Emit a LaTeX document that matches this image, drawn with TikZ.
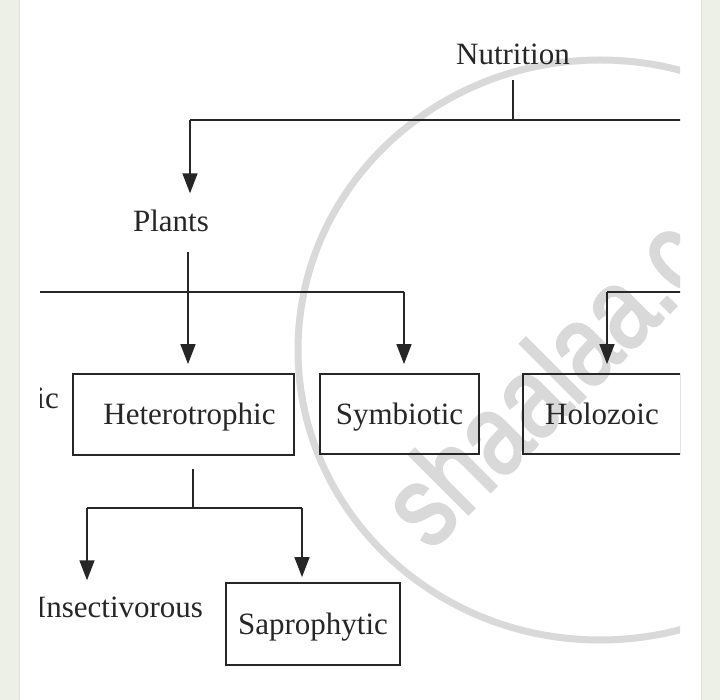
\documentclass[tikz,border=0pt]{standalone}
\usepackage{fontspec}
\usepackage{graphicx}
\setmainfont{Liberation Serif}
\newfontfamily\wmfont[FakeBold=2.5]{Liberation Sans}
\usetikzlibrary{arrows.meta}
\definecolor{framebg}{RGB}{237,240,231}
\definecolor{frameln}{RGB}{222,226,214}
\definecolor{ink}{RGB}{38,38,38}
\definecolor{wm}{RGB}{217,217,217}
\begin{document}
\begin{tikzpicture}[x=1pt,y=-1pt,
  lbl/.style={font=\fontsize{31}{31}\selectfont, text=ink, inner sep=0pt,
    text height=20.5pt, text depth=0pt, anchor=base},
  box/.style={draw=ink, line width=1.8pt, font=\fontsize{31}{31}\selectfont,
    text=ink, inner sep=0pt, text height=20.5pt, text depth=0pt},
  ln/.style={draw=ink, line width=1.5pt},
  arr/.style={ln, -{Triangle[width=15pt,length=20pt]}, shorten >=9pt}]
\useasboundingbox (0,0) rectangle (720,700);
\fill[white] (0,0) rectangle (720,700);
\fill[framebg] (0,0) rectangle (19,700);
\fill[framebg] (701,0) rectangle (720,700);
\draw[frameln, line width=1pt] (19,0) -- (19,700);
\draw[frameln, line width=1pt] (701,0) -- (701,700);
\begin{scope}
\clip (40,0) rectangle (680,700);
% watermark
\draw[wm, line width=7pt] (600,350) ellipse [x radius=302, y radius=290];
\node[text=wm, anchor=base west, rotate=45, inner sep=0pt] (wmk) at (430,552)
  {\scalebox{0.82}[1]{\wmfont\fontsize{115}{115}\selectfont shaalaa.c}};
% labels
\node[lbl] (nut) at (513,65) {Nutrition};
\node[lbl] (pla) at (171,232) {Plants};
\node[lbl, anchor=base east] (aut) at (59,408) {ic};
\node[lbl] (ins) at (119.5,617) {Insectivorous};
% boxes
\node[box, minimum width=221pt, minimum height=81pt] (het) at (183.5,414.5) {\hspace{12pt}Heterotrophic};
\node[box, minimum width=159pt, minimum height=80pt] (sym) at (399.5,414) {Symbiotic};
\node[box, minimum width=158pt, minimum height=80pt] (hol) at (602,414) {Holozoic};
\node[box, minimum width=174pt, minimum height=82pt] (sap) at (313,624) {Saprophytic};
% junction coordinates
\coordinate (nj) at (513,120);
\coordinate (nl) at (190,120);
\coordinate (nr) at (700,120);
\coordinate (ps) at (188,292);
\coordinate (pl) at (20,292);
\coordinate (sj) at (404,292);
\coordinate (hr) at (700,292);
\coordinate (hj) at (607,292);
\coordinate (hs) at (193,508);
\coordinate (il) at (87,508);
\coordinate (sr) at (302,508);
% connectors
\draw[ln] ([yshift=-15pt]nut.south) -- (nj);
\draw[ln] (nl) -- (nr);
\draw[arr, shorten >=18pt] (nl) -- (nl |- pla.north);
\draw[arr] ([yshift=-20pt]pla.south -| ps) -- (het.north -| ps);
\draw[ln] (pl) -- (sj);
\draw[arr] (sj) -- (sym.north -| sj);
\draw[ln] (hr) -- (hj);
\draw[arr] (hj) -- (hol.north -| hj);
\draw[ln, shorten <=13pt] (het.south -| hs) -- (hs);
\draw[ln] (il) -- (sr);
\draw[arr, shorten >=16pt] (il) -- (il |- ins.north);
\draw[arr, shorten >=5pt] (sr) -- (sap.north -| sr);
\end{scope}
\end{tikzpicture}
\end{document}
